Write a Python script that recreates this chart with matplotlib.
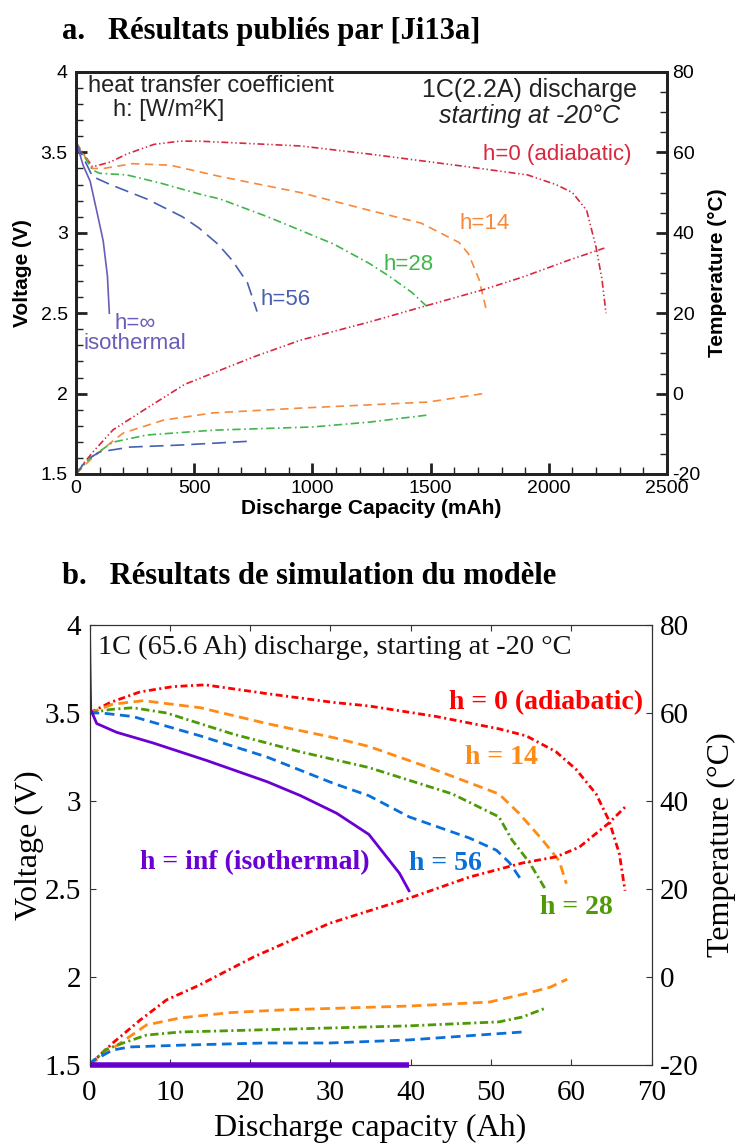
import numpy as np
import matplotlib
matplotlib.use("Agg")
import matplotlib.pyplot as plt
from matplotlib.ticker import MultipleLocator

plt.rcParams['lines.scale_dashes'] = False

# ---- panel a : published results (capacity in mAh) ----
a_cap_h0 = [0, 70, 145, 215, 330, 440, 520, 950, 1240, 1660, 1910, 2030, 2100, 2160, 2200, 2225, 2242]
a_v_h0 = [3.56, 3.41, 3.44, 3.49, 3.55, 3.57, 3.57, 3.54, 3.49, 3.41, 3.36, 3.30, 3.25, 3.14, 2.91, 2.71, 2.50]
a_tcap_h0 = [0, 17, 72, 157, 300, 460, 750, 950, 1240, 1490, 1720, 1890, 2085, 2235]
a_t_h0 = [-20, -18.5, -14.5, -9.0, -3.6, 2.3, 9.1, 13.3, 17.8, 22.0, 25.8, 29.0, 33.2, 36.2]

a_cap_h14 = [0, 70, 115, 240, 400, 610, 950, 1240, 1460, 1620, 1660, 1705, 1734]
a_v_h14 = [3.56, 3.40, 3.40, 3.43, 3.42, 3.35, 3.25, 3.14, 3.06, 2.94, 2.87, 2.71, 2.53]
a_tcap_h14 = [0, 60, 145, 200, 370, 580, 950, 1240, 1490, 1734]
a_t_h14 = [-20, -16.5, -12.3, -9.8, -6.6, -4.8, -3.6, -2.8, -2.1, 0.1]

a_cap_h28 = [0, 70, 100, 215, 355, 525, 610, 810, 1090, 1240, 1325, 1420, 1493]
a_v_h28 = [3.56, 3.39, 3.37, 3.36, 3.31, 3.24, 3.21, 3.10, 2.93, 2.81, 2.73, 2.63, 2.53]
a_tcap_h28 = [0, 60, 155, 300, 580, 1000, 1240, 1493]
a_t_h28 = [-20, -16.0, -12.1, -10.3, -9.1, -8.3, -7.1, -5.3]

a_cap_h56 = [0, 70, 145, 300, 450, 520, 600, 660, 725, 766]
a_v_h56 = [3.56, 3.35, 3.30, 3.21, 3.10, 3.03, 2.93, 2.83, 2.69, 2.51]
a_tcap_h56 = [0, 45, 100, 230, 440, 750]
a_t_h56 = [-20, -16.5, -14.5, -13.3, -12.8, -11.8]

a_cap_iso = [0, 30, 60, 90, 115, 133, 141]
a_v_iso = [3.57, 3.42, 3.32, 3.12, 2.95, 2.73, 2.50]
a_tcap_iso = [0, 143]
a_t_iso = [-20, -20]

a_xticks = [0, 500, 1000, 1500, 2000, 2500]
a_xticklabels = ['0', '500', '1000', '1500', '2000', '2500']
a_vticks = [1.5, 2, 2.5, 3, 3.5, 4]
a_vticklabels = ['1.5', '2', '2.5', '3', '3.5', '4']
a_tticks = [-20, 0, 20, 40, 60, 80]
a_tticklabels = ['-20', '0', '20', '40', '60', '80']

# ---- panel b : model simulation (capacity in Ah) ----
b_cap_h0 = [0, 2.6, 6.3, 10.4, 14.4, 22.1, 30.4, 34.8, 43.2, 51.0, 54.4, 58.1, 60.6, 63.1, 64.7, 66.0, 66.7]
b_v_h0 = [3.50, 3.56, 3.62, 3.65, 3.66, 3.61, 3.56, 3.54, 3.48, 3.41, 3.37, 3.28, 3.18, 3.04, 2.89, 2.70, 2.49]
b_tcap_h0 = [0, 2.9, 6.3, 9.6, 13.5, 20.5, 29.9, 39.8, 47.3, 53.9, 58.1, 61.0, 64.7, 66.7]
b_t_h0 = [-20, -15.0, -9.8, -5.2, -2.0, 4.6, 12.2, 17.9, 22.7, 25.9, 27.3, 29.5, 35.0, 38.6]

b_cap_h14 = [0, 2.9, 6.7, 13.8, 22.1, 30.4, 34.8, 42.3, 51.0, 53.5, 56.4, 58.5, 59.4]
b_v_h14 = [3.50, 3.55, 3.57, 3.53, 3.44, 3.36, 3.31, 3.19, 3.04, 2.93, 2.78, 2.66, 2.53]
b_tcap_h14 = [0, 2.9, 7.1, 11.3, 17.5, 23.7, 39.8, 49.8, 54.5, 57.4, 59.5]
b_t_h14 = [-20, -16.2, -10.9, -9.3, -8.1, -7.5, -6.6, -5.7, -3.7, -2.3, -0.5]

b_cap_h28 = [0, 2.6, 5.4, 9.6, 17.9, 26.2, 34.8, 45.2, 51.0, 52.6, 54.8, 56.9]
b_v_h28 = [3.50, 3.52, 3.53, 3.50, 3.38, 3.28, 3.19, 3.04, 2.91, 2.78, 2.65, 2.49]
b_tcap_h28 = [0, 2.0, 4.2, 7.1, 11.3, 17.5, 39.8, 51.0, 53.9, 56.9]
b_t_h28 = [-20, -16.5, -15.0, -13.2, -12.5, -12.2, -11.1, -10.2, -9.1, -7.0]

b_cap_h56 = [0, 1.5, 5.4, 13.8, 22.1, 30.4, 34.8, 39.8, 47.3, 50.7, 52.3, 53.8]
b_v_h56 = [3.50, 3.50, 3.48, 3.37, 3.25, 3.10, 3.03, 2.91, 2.79, 2.72, 2.65, 2.55]
b_tcap_h56 = [0, 0.5, 2.9, 5.0, 11.3, 21.7, 29.9, 39.8, 53.9]
b_t_h56 = [-20, -18.9, -16.6, -15.9, -15.5, -15.0, -15.0, -14.3, -12.5]

b_cap_iso = [0, 0.05, 0.15, 0.9, 3.4, 7.9, 14.6, 22.1, 26.3, 30.8, 34.8, 38.6, 39.8]
b_v_iso = [4.0, 3.8, 3.52, 3.44, 3.39, 3.33, 3.23, 3.11, 3.03, 2.93, 2.81, 2.59, 2.49]
b_tcap_iso = [0, 39.8]
b_t_iso = [-20, -20]

b_xticks = [0, 10, 20, 30, 40, 50, 60, 70]
b_xticklabels = ['0', '10', '20', '30', '40', '50', '60', '70']
b_vticks = [1.5, 2, 2.5, 3, 3.5, 4]
b_vticklabels = ['1.5', '2', '2.5', '3', '3.5', '4']
b_tticks = [-20, 0, 20, 40, 60, 80]
b_tticklabels = ['-20', '0', '20', '40', '60', '80']

SANS = ['Liberation Sans', 'DejaVu Sans']
SERIF = ['Liberation Serif', 'DejaVu Serif']

fig = plt.figure(figsize=(7.38, 11.44), dpi=100)

# titles
fig.text(62 / 738, 1 - 31 / 1144, 'a.   Résultats publiés par [Ji13a]', family=SERIF,
         weight='bold', fontsize=22, ha='left', va='center')
fig.text(62 / 738, 1 - 576 / 1144, 'b.   Résultats de simulation du modèle', family=SERIF,
         weight='bold', fontsize=22, ha='left', va='center')

# ================= panel a =================
A_RED, A_ORANGE, A_GREEN, A_BLUE, A_PURPLE = '#d8283f', '#f7893b', '#3fb64a', '#4760b0', '#6a5cb8'
axa = fig.add_axes([76 / 738, 1 - 474 / 1144, 591 / 738, 402 / 1144])
axa_t = axa.twinx()
axa.set_xlim(0, 2500)
axa.set_ylim(1.5, 4)
axa_t.set_ylim(-20, 80)

lw_a = 1.2
axa.plot(a_cap_h0, a_v_h0, color=A_RED, lw=lw_a, dashes=(5, 2, 1, 2, 1, 2))
axa.plot(a_cap_h14, a_v_h14, color=A_ORANGE, lw=lw_a, dashes=(6, 4))
axa.plot(a_cap_h28, a_v_h28, color=A_GREEN, lw=lw_a, dashes=(6, 2.5, 1.2, 2.5))
axa.plot(a_cap_h56, a_v_h56, color=A_BLUE, lw=lw_a, dashes=(10, 5))
axa.plot(a_cap_iso, a_v_iso, color=A_PURPLE, lw=lw_a)
axa_t.plot(a_tcap_h0, a_t_h0, color=A_RED, lw=lw_a, dashes=(5, 2, 1, 2, 1, 2))
axa_t.plot(a_tcap_h14, a_t_h14, color=A_ORANGE, lw=lw_a, dashes=(6, 4))
axa_t.plot(a_tcap_h28, a_t_h28, color=A_GREEN, lw=lw_a, dashes=(6, 2.5, 1.2, 2.5))
axa_t.plot(a_tcap_h56, a_t_h56, color=A_BLUE, lw=lw_a, dashes=(10, 5))
axa_t.plot(a_tcap_iso, a_t_iso, color=A_PURPLE, lw=2, clip_on=False)

axa.set_xticks(a_xticks)
axa.set_xticklabels(a_xticklabels, family=SANS, fontsize=14)
axa.set_yticks(a_vticks)
axa.set_yticklabels(a_vticklabels, family=SANS, fontsize=14)
axa.xaxis.set_minor_locator(MultipleLocator(100))
axa.yaxis.set_minor_locator(MultipleLocator(0.1))
axa_t.set_yticks(a_tticks)
axa_t.set_yticklabels(a_tticklabels, family=SANS, fontsize=14)
axa_t.yaxis.set_minor_locator(MultipleLocator(5))
for ax in (axa, axa_t):
    ax.tick_params(which='major', direction='in', length=8, width=2, pad=4, color='#222222')
    ax.tick_params(which='minor', direction='in', length=5, width=1, color='#222222')
    for sp in ax.spines.values():
        sp.set_linewidth(2)
        sp.set_color('#222222')
axa.tick_params(axis='y', which='major', pad=6)

axa.set_xlabel('Discharge Capacity (mAh)', family=SANS, weight='bold', fontsize=15, va='center')
axa.xaxis.set_label_coords(0.5, -0.085)
axa.set_ylabel('Voltage (V)', family=SANS, weight='bold', fontsize=15, va='center')
axa.yaxis.set_label_coords(-0.091, 0.5)
axa_t.set_ylabel('Temperature (°C)', family=SANS, weight='bold', fontsize=15, va='center')
axa_t.yaxis.set_label_coords(1.086, 0.5)

txt = dict(transform=axa.transAxes, family=SANS)
axa.text(0.020, 0.966, 'heat transfer coefficient', ha='left', va='center', color='#222222',
         fontsize=17, **txt)
axa.text(0.063, 0.906, 'h: [W/m²K]', ha='left', va='center', color='#222222',
         fontsize=17, **txt)
axa.text(0.768, 0.955, '1C(2.2A) discharge', ha='center', va='center', color='#222222',
         fontsize=18, **txt)
axa.text(0.768, 0.890, 'starting at -20°C', ha='center', va='center', color='#222222',
         style='italic', fontsize=18, **txt)
axa.text(0.814, 0.794, 'h=0 (adiabatic)', ha='center', va='center', color=A_RED,
         fontsize=16, **txt)
axa.text(0.692, 0.622, 'h=14', ha='center', va='center', color=A_ORANGE, fontsize=16, **txt)
axa.text(0.562, 0.522, 'h=28', ha='center', va='center', color=A_GREEN, fontsize=16, **txt)
axa.text(0.355, 0.433, 'h=56', ha='center', va='center', color=A_BLUE, fontsize=16, **txt)
axa.text(0.100, 0.350, 'h=∞\nisothermal', ha='center', va='center', color=A_PURPLE,
         linespacing=0.95, fontsize=16, **txt)

# ================= panel b =================
B_RED, B_ORANGE, B_GREEN, B_BLUE, B_PURPLE = '#ff0000', '#ff8a14', '#4e9a06', '#0a6fd8', '#6a00d4'
axb = fig.add_axes([89.5 / 738, 1 - 1065 / 1144, 562 / 738, 440 / 1144])
axb_t = axb.twinx()
axb.set_xlim(0, 70)
axb.set_ylim(1.5, 4)
axb_t.set_ylim(-20, 80)

lw_b = 2.0
axb.plot(b_cap_h0, b_v_h0, color=B_RED, lw=lw_b, dashes=(5, 2.5, 1.5, 2.5))
axb.plot(b_cap_h14, b_v_h14, color=B_ORANGE, lw=lw_b, dashes=(7, 4))
axb.plot(b_cap_h28, b_v_h28, color=B_GREEN, lw=lw_b, dashes=(6, 2.5, 1.5, 2.5))
axb.plot(b_cap_h56, b_v_h56, color=B_BLUE, lw=lw_b, dashes=(7, 4))
axb.plot(b_cap_iso, b_v_iso, color=B_PURPLE, lw=lw_b)
axb_t.plot(b_tcap_h0, b_t_h0, color=B_RED, lw=lw_b, dashes=(5, 2.5, 1.5, 2.5))
axb_t.plot(b_tcap_h14, b_t_h14, color=B_ORANGE, lw=lw_b, dashes=(7, 4))
axb_t.plot(b_tcap_h28, b_t_h28, color=B_GREEN, lw=lw_b, dashes=(6, 2.5, 1.5, 2.5))
axb_t.plot(b_tcap_h56, b_t_h56, color=B_BLUE, lw=lw_b, dashes=(7, 4))
axb_t.plot(b_tcap_iso, b_t_iso, color=B_PURPLE, lw=4, clip_on=False, solid_capstyle='butt')

axb.set_xticks(b_xticks)
axb.set_xticklabels(b_xticklabels, family=SERIF, fontsize=21)
axb.set_yticks(b_vticks)
axb.set_yticklabels(b_vticklabels, family=SERIF, fontsize=21)
axb_t.set_yticks(b_tticks)
axb_t.set_yticklabels(b_tticklabels, family=SERIF, fontsize=21)
axb.tick_params(direction='in', length=4.5, width=0.8, top=True, right=False, color='#333333')
axb.tick_params(axis='y', pad=6)
axb.tick_params(axis='x', pad=11)
axb_t.tick_params(direction='in', length=4.5, width=0.8, pad=6, color='#333333')
for ax in (axb, axb_t):
    for sp in ax.spines.values():
        sp.set_linewidth(0.8)
        sp.set_color('#333333')

axb.set_xlabel('Discharge capacity (Ah)', family=SERIF, fontsize=23, va='center')
axb.xaxis.set_label_coords(0.5, -0.145)
axb.set_ylabel('Voltage (V)', family=SERIF, fontsize=23, va='center')
axb.yaxis.set_label_coords(-0.106, 0.5)
axb_t.set_ylabel('Temperature (°C)', family=SERIF, fontsize=23, va='center')
axb_t.yaxis.set_label_coords(1.125, 0.5)

bt = dict(transform=axb.transAxes, family=SERIF, fontsize=20)
axb.text(0.015, 0.948, '1C (65.6 Ah) discharge, starting at -20 °C', ha='left', va='center',
         color='#111111', fontsize=20.4, **{k: v for k, v in bt.items() if k != 'fontsize'})
axb.text(0.985, 0.823, 'h = 0 (adiabatic)', ha='right', va='center', color=B_RED,
         weight='bold', **bt)
axb.text(0.733, 0.698, 'h = 14', ha='center', va='center', color=B_ORANGE, weight='bold', **bt)
axb.text(0.2945, 0.459, 'h = inf (isothermal)', ha='center', va='center', color=B_PURPLE,
         weight='bold', **bt)
axb.text(0.633, 0.459, 'h = 56', ha='center', va='center', color=B_BLUE, weight='bold', **bt)
axb.text(0.8665, 0.357, 'h = 28', ha='center', va='center', color=B_GREEN, weight='bold', **bt)

fig.savefig('out.png', dpi=100)
